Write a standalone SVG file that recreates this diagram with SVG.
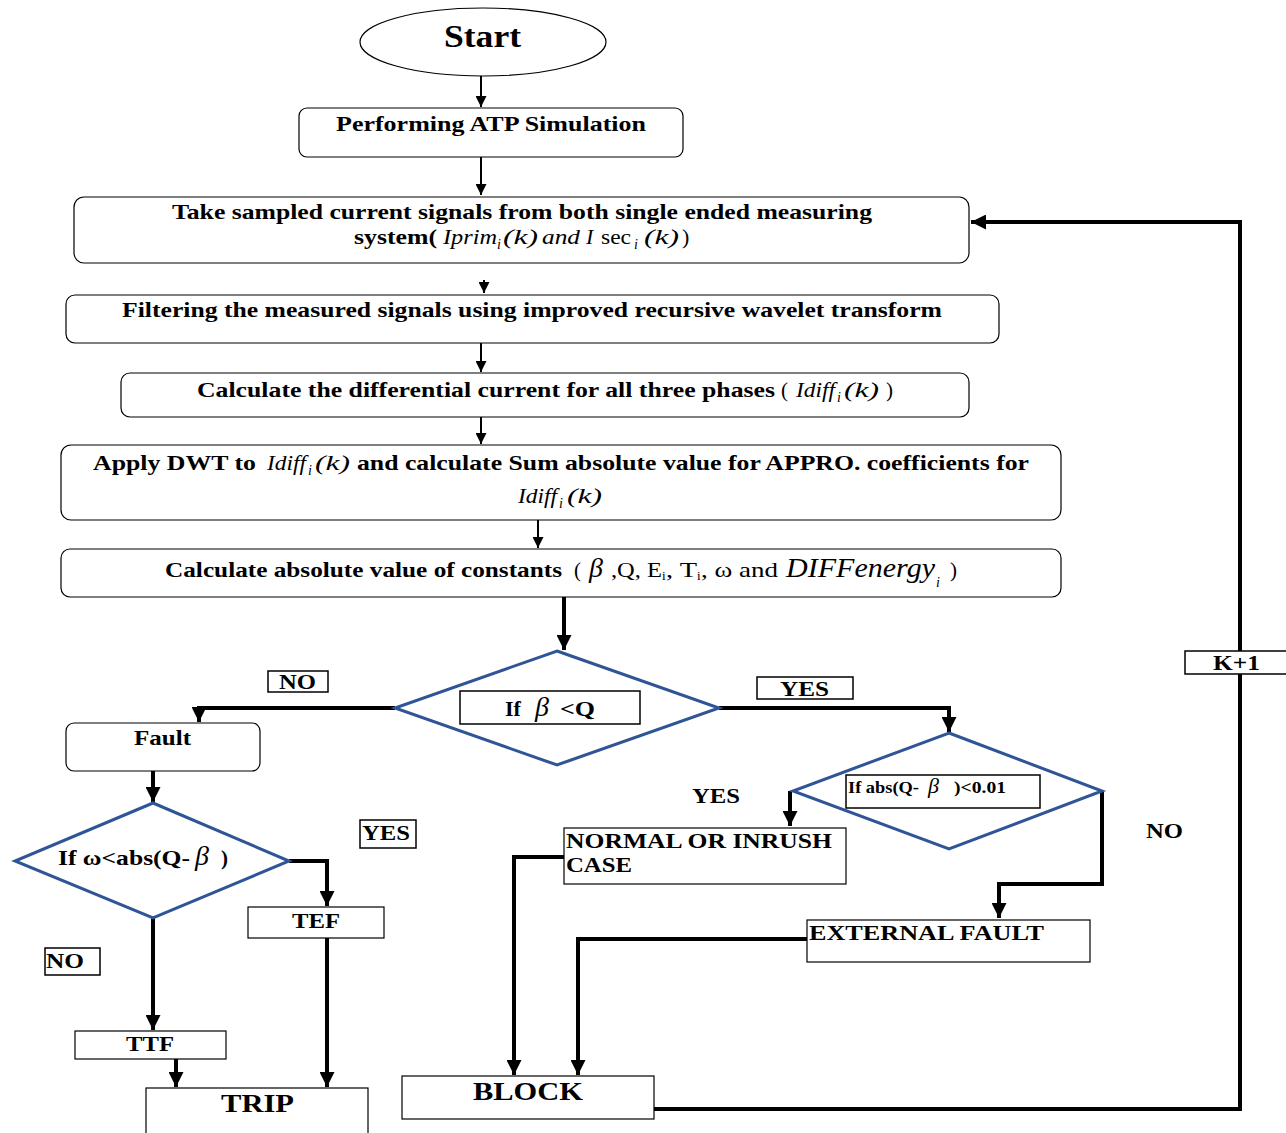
<svg xmlns="http://www.w3.org/2000/svg" width="1286" height="1133" viewBox="0 0 1286 1133">
<defs>
<style>
.bg{fill:#fff}
.box{fill:#fff;stroke:#000;stroke-width:1.2}
.lbl{fill:#fff;stroke:#000;stroke-width:1.5}
.dia{fill:#fff;stroke:#2F5597;stroke-width:3}
.b{font-family:"Liberation Serif","Times New Roman",serif;font-weight:bold;fill:#000}
.m{font-family:"Liberation Serif","Times New Roman",serif;font-style:italic;font-weight:normal;fill:#000}
.r{font-family:"Liberation Serif","Times New Roman",serif;font-weight:normal;fill:#000}
.thin{fill:none;stroke:#000;stroke-width:2}
.thick{fill:none;stroke:#000;stroke-width:4}
</style>
<marker id="ah" viewBox="0 0 10 10" refX="10" refY="5" orient="auto" markerUnits="userSpaceOnUse" markerWidth="11" markerHeight="11"><path d="M0,0 L10,5 L0,10 z" fill="#000"/></marker>
<marker id="ahb" viewBox="0 0 10 10" refX="10" refY="5" orient="auto" markerUnits="userSpaceOnUse" markerWidth="15" markerHeight="15"><path d="M0,0 L10,5 L0,10 z" fill="#000"/></marker>
</defs>
<rect class="bg" x="0" y="0" width="1286" height="1133"/>

<g id="connectors">
<path class="thin" d="M481,76 V107" marker-end="url(#ah)"/>
<path class="thin" d="M481,157 V195" marker-end="url(#ah)"/>
<path class="thin" d="M484,280 V293" marker-end="url(#ah)"/>
<path class="thin" d="M481,343 V372" marker-end="url(#ah)"/>
<path class="thin" d="M481,417 V444" marker-end="url(#ah)"/>
<path class="thin" d="M538,520 V548" marker-end="url(#ah)"/>
<path class="thick" d="M564,597 V650" marker-end="url(#ahb)"/>
<path class="thick" d="M395,708 H199 V722" marker-end="url(#ahb)"/>
<path class="thick" d="M719,708 H949 V732" marker-end="url(#ahb)"/>
<path class="thick" d="M153,771 V802" marker-end="url(#ahb)"/>
<path class="thick" d="M289,861 H327 V906" marker-end="url(#ahb)"/>
<path class="thick" d="M153,918 V1030" marker-end="url(#ahb)"/>
<path class="thick" d="M176,1059 V1087" marker-end="url(#ahb)"/>
<path class="thick" d="M327,938 V1087" marker-end="url(#ahb)"/>
<path class="thick" d="M790,791 V826" marker-end="url(#ahb)"/>
<path class="thick" d="M1102,791 V884 H999 V918" marker-end="url(#ahb)"/>
<path class="thick" d="M564,857 H514 V1075" marker-end="url(#ahb)"/>
<path class="thick" d="M807,939 H578 V1075" marker-end="url(#ahb)"/>
<path class="thick" d="M654,1109 H1240 V222 H971" marker-end="url(#ahb)"/>
</g>

<g id="start">
<ellipse cx="483" cy="42" rx="123" ry="34" fill="#fff" stroke="#000" stroke-width="1.2"/>
<text class="b" x="444" y="47" font-size="32" textLength="77" lengthAdjust="spacingAndGlyphs">Start</text>
</g>

<g id="atp">
<rect class="box" x="299" y="108" width="384" height="49" rx="8"/>
<text class="b" x="336" y="131" font-size="21" textLength="310" lengthAdjust="spacingAndGlyphs">Performing ATP Simulation</text>
</g>

<g id="sample">
<rect class="box" x="74" y="197" width="895" height="66" rx="10"/>
<text class="b" x="172" y="219" font-size="21" textLength="700" lengthAdjust="spacingAndGlyphs">Take sampled current signals from both single ended measuring</text>
<text class="b" x="354" y="244" font-size="21" textLength="83" lengthAdjust="spacingAndGlyphs">system(</text>
<text class="m" x="443" y="244" font-size="22" textLength="54" lengthAdjust="spacingAndGlyphs">Iprim</text>
<text class="m" x="497" y="249" font-size="14">i</text>
<text class="m" x="503" y="244" font-size="22" textLength="35" lengthAdjust="spacingAndGlyphs">(k)</text>
<text class="m" x="542" y="244" font-size="22" textLength="38" lengthAdjust="spacingAndGlyphs">and</text>
<text class="m" x="586" y="244" font-size="22">I</text>
<text class="r" x="601" y="244" font-size="22" textLength="30" lengthAdjust="spacingAndGlyphs">sec</text>
<text class="m" x="634" y="249" font-size="14">i</text>
<text class="m" x="644" y="244" font-size="22" textLength="35" lengthAdjust="spacingAndGlyphs">(k)</text>
<text class="r" x="682" y="244" font-size="22">)</text>
</g>

<g id="filter">
<rect class="box" x="66" y="295" width="933" height="48" rx="9"/>
<text class="b" x="122" y="317" font-size="21" textLength="820" lengthAdjust="spacingAndGlyphs">Filtering the measured signals using improved recursive wavelet transform</text>
</g>

<g id="diffcur">
<rect class="box" x="121" y="373" width="848" height="44" rx="9"/>
<text class="b" x="197" y="397" font-size="21" textLength="578" lengthAdjust="spacingAndGlyphs">Calculate the differential current for all three phases</text>
<text class="r" x="781" y="397" font-size="21">(</text>
<text class="m" x="796" y="397" font-size="22" textLength="39" lengthAdjust="spacingAndGlyphs">Idiff</text>
<text class="m" x="837" y="402" font-size="14">i</text>
<text class="m" x="844" y="397" font-size="22" textLength="35" lengthAdjust="spacingAndGlyphs">(k)</text>
<text class="r" x="886" y="397" font-size="21">)</text>
</g>

<g id="dwt">
<rect class="box" x="61" y="445" width="1000" height="75" rx="10"/>
<text class="b" x="93" y="470" font-size="21" textLength="163" lengthAdjust="spacingAndGlyphs">Apply DWT to</text>
<text class="m" x="267" y="470" font-size="22" textLength="39" lengthAdjust="spacingAndGlyphs">Idiff</text>
<text class="m" x="308" y="475" font-size="14">i</text>
<text class="m" x="315" y="470" font-size="22" textLength="35" lengthAdjust="spacingAndGlyphs">(k)</text>
<text class="b" x="357" y="470" font-size="21" textLength="672" lengthAdjust="spacingAndGlyphs">and calculate Sum absolute value for APPRO. coefficients for</text>
<text class="m" x="518" y="503" font-size="22" textLength="39" lengthAdjust="spacingAndGlyphs">Idiff</text>
<text class="m" x="559" y="508" font-size="14">i</text>
<text class="m" x="567" y="503" font-size="22" textLength="35" lengthAdjust="spacingAndGlyphs">(k)</text>
</g>

<g id="consts">
<rect class="box" x="61" y="549" width="1000" height="48" rx="9"/>
<text class="b" x="165" y="577" font-size="21" textLength="397" lengthAdjust="spacingAndGlyphs">Calculate absolute value of constants</text>
<text class="r" x="574" y="577" font-size="21">(</text>
<text class="m" x="589" y="577" font-size="28">β</text>
<text class="r" x="611" y="577" font-size="21" textLength="51" lengthAdjust="spacingAndGlyphs">,Q, E</text>
<text class="r" x="662" y="580" font-size="13">i</text>
<text class="r" x="666" y="577" font-size="21" textLength="31" lengthAdjust="spacingAndGlyphs">, T</text>
<text class="r" x="697" y="580" font-size="13">i</text>
<text class="r" x="701" y="577" font-size="21" textLength="77" lengthAdjust="spacingAndGlyphs">, ω and</text>
<text class="m" x="786" y="577" font-size="27" textLength="149" lengthAdjust="spacingAndGlyphs">DIFFenergy</text>
<text class="m" x="936" y="587" font-size="14">i</text>
<text class="r" x="950" y="577" font-size="21">)</text>
</g>

<g id="dec1">
<polygon class="dia" points="557,651 719,708 557,765 395,708"/>
<rect class="lbl" x="460" y="691" width="180" height="33"/>
<text class="b" x="505" y="716" font-size="22">If</text>
<text class="m" x="535" y="716" font-size="28">β</text>
<text class="b" x="560" y="716" font-size="22" textLength="35" lengthAdjust="spacingAndGlyphs">&lt;Q</text>
</g>

<g id="lbl-no1">
<rect class="lbl" x="268" y="671" width="60" height="21"/>
<text class="b" x="279" y="689" font-size="21" textLength="37" lengthAdjust="spacingAndGlyphs">NO</text>
</g>

<g id="lbl-yes1">
<rect class="lbl" x="757" y="677" width="96" height="22"/>
<text class="b" x="780" y="696" font-size="21" textLength="49" lengthAdjust="spacingAndGlyphs">YES</text>
</g>

<g id="fault">
<rect class="box" x="66" y="723" width="194" height="48" rx="8"/>
<text class="b" x="134" y="745" font-size="21" textLength="57" lengthAdjust="spacingAndGlyphs">Fault</text>
</g>

<g id="dec2">
<polygon class="dia" points="153,803 289,861 153,918 15,861"/>
<text class="b" x="58" y="865" font-size="21" textLength="132" lengthAdjust="spacingAndGlyphs">If ω&lt;abs(Q-</text>
<text class="m" x="195" y="865" font-size="28">β</text>
<text class="b" x="221" y="865" font-size="21">)</text>
</g>

<g id="lbl-yes2">
<rect class="lbl" x="360" y="820" width="56" height="28"/>
<text class="b" x="362" y="840" font-size="21" textLength="48" lengthAdjust="spacingAndGlyphs">YES</text>
</g>

<g id="lbl-no2">
<rect class="lbl" x="45" y="948" width="55" height="27"/>
<text class="b" x="46" y="968" font-size="21" textLength="38" lengthAdjust="spacingAndGlyphs">NO</text>
</g>

<g id="tef">
<rect class="box" x="248" y="907" width="136" height="31"/>
<text class="b" x="292" y="928" font-size="21" textLength="48" lengthAdjust="spacingAndGlyphs">TEF</text>
</g>

<g id="ttf">
<rect class="box" x="75" y="1031" width="151" height="28"/>
<text class="b" x="126" y="1051" font-size="21" textLength="48" lengthAdjust="spacingAndGlyphs">TTF</text>
</g>

<g id="trip">
<rect class="box" x="146" y="1088" width="222" height="50"/>
<text class="b" x="221" y="1112" font-size="26" textLength="73" lengthAdjust="spacingAndGlyphs">TRIP</text>
</g>

<g id="dec3">
<polygon class="dia" points="949,733 1102,791 949,849 793,791"/>
<rect class="lbl" x="846" y="775" width="194" height="33"/>
<text class="b" x="848" y="793" font-size="17" textLength="71" lengthAdjust="spacingAndGlyphs">If abs(Q-</text>
<text class="m" x="928" y="793" font-size="22">β</text>
<text class="b" x="954" y="793" font-size="17" textLength="52" lengthAdjust="spacingAndGlyphs">)&lt;0.01</text>
</g>

<g id="lbl-yes3">
<text class="b" x="692" y="803" font-size="21" textLength="48" lengthAdjust="spacingAndGlyphs">YES</text>
</g>

<g id="lbl-no3">
<text class="b" x="1146" y="838" font-size="21" textLength="37" lengthAdjust="spacingAndGlyphs">NO</text>
</g>

<g id="normal">
<rect class="box" x="564" y="828" width="282" height="56"/>
<text class="b" x="566" y="848" font-size="22" textLength="266" lengthAdjust="spacingAndGlyphs">NORMAL OR INRUSH</text>
<text class="b" x="566" y="872" font-size="22" textLength="66" lengthAdjust="spacingAndGlyphs">CASE</text>
</g>

<g id="external">
<rect class="box" x="807" y="920" width="283" height="42"/>
<text class="b" x="809" y="940" font-size="22" textLength="235" lengthAdjust="spacingAndGlyphs">EXTERNAL FAULT</text>
</g>

<g id="block">
<rect class="box" x="402" y="1076" width="252" height="43"/>
<text class="b" x="473" y="1100" font-size="26" textLength="110" lengthAdjust="spacingAndGlyphs">BLOCK</text>
</g>

<g id="lbl-k1">
<rect class="lbl" x="1185" y="651" width="102" height="23"/>
<text class="b" x="1213" y="670" font-size="21" textLength="47" lengthAdjust="spacingAndGlyphs">K+1</text>
</g>
</svg>
